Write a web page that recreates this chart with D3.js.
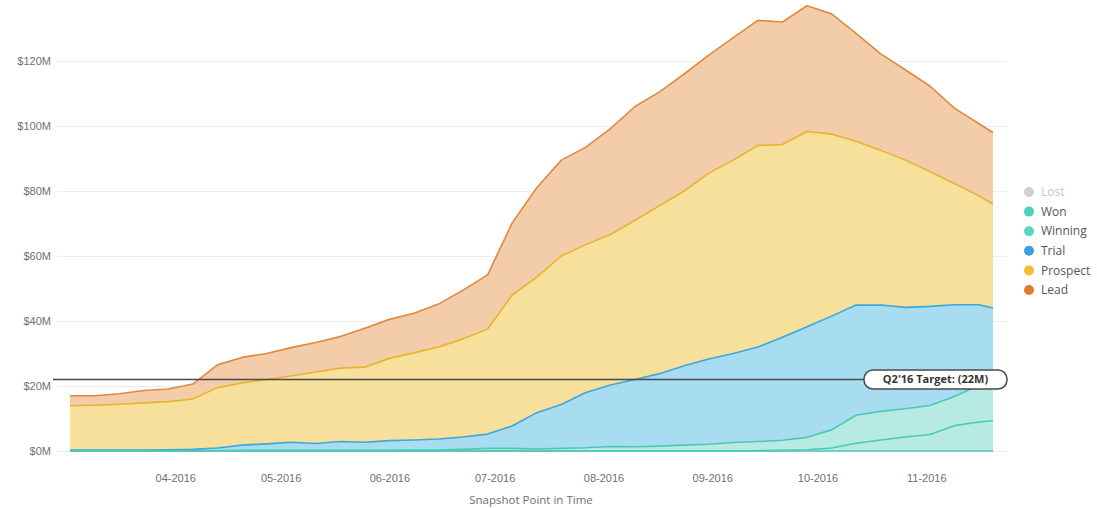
<!DOCTYPE html>
<html>
<head>
<meta charset="utf-8">
<script src="https://cdn.jsdelivr.net/npm/d3@7"></script>
<style>
  body { margin: 0; background: #fff; }
  svg { font-family: "Open Sans", sans-serif; }
</style>
</head>
<body>
<svg></svg>
<script>
const width = 1097;
const height = 508;

// weekly snapshots
const dates = ['2016-03-02','2016-03-09','2016-03-16','2016-03-23','2016-03-30',
  '2016-04-06','2016-04-13','2016-04-20','2016-04-27',
  '2016-05-04','2016-05-11','2016-05-18','2016-05-25',
  '2016-06-01','2016-06-08','2016-06-15','2016-06-22','2016-06-29',
  '2016-07-06','2016-07-13','2016-07-20','2016-07-27',
  '2016-08-03','2016-08-10','2016-08-17','2016-08-24','2016-08-31',
  '2016-09-07','2016-09-14','2016-09-21','2016-09-28',
  '2016-10-05','2016-10-12','2016-10-19','2016-10-26',
  '2016-11-02','2016-11-09','2016-11-16','2016-11-20'];

// values in $M
const won = [0,0,0,0,0, 0,0,0,0, 0,0,0,0, 0,0,0,0,0, 0,0,0,0, 0,0,0,0,0,
  0,0.1,0.2,0.4, 0.9,2.4,3.4,4.3, 5.1,7.8,8.9,9.3];
const winning = [0.1,0.1,0.1,0.1,0.1, 0.1,0.1,0.2,0.2, 0.2,0.2,0.2,0.2, 0.2,0.3,0.3,0.5,0.8,
  0.8,0.6,0.8,1.0, 1.4,1.3,1.5,1.8,2.1, 2.6,2.8,3.1,3.8, 5.6,8.6,8.8,8.7, 8.9,9.0,11.3,12.0];
const trial = [0.2,0.2,0.2,0.2,0.3, 0.4,0.8,1.6,2.0, 2.5,2.1,2.7,2.5, 3.0,3.1,3.4,3.8,4.4,
  6.9,11.2,13.5,17.0, 18.9,20.7,22.3,24.4,26.2, 27.4,29.1,31.7,34.0, 35.0,33.9,32.7,31.2, 30.5,28.2,24.8,22.7];
const prospect = [13.6,13.8,14.1,14.5,14.8, 15.5,18.6,19.1,19.8, 20.4,22.0,22.6,23.1, 25.3,26.8,28.3,30.2,32.3,
  40.3,41.7,45.7,45.5, 46.3,49.0,51.7,53.8,57.2, 59.5,62.0,59.3,60.1, 56.0,50.4,47.6,45.3, 41.5,37.3,33.5,32.0];
const lead = [3.1,2.9,3.2,3.8,3.9, 4.6,7.0,7.9,8.0, 8.7,9.1,9.7,12.0, 12.0,12.2,13.2,15.0,16.7,
  22.2,27.5,29.5,30.0, 32.6,35.0,35.0,36.0,36.3, 37.7,38.5,37.7,38.7, 37.0,33.2,29.7,27.8, 26.3,23.2,22.2,22.0];

const yTicks = [0, 20, 40, 60, 80, 100, 120];
const target = 22;
const targetLabel = "Q2'16 Target: (22M)";

const seriesNames = ['Won', 'Winning', 'Trial', 'Prospect', 'Lead'];
const legendNames = ['Lost', 'Won', 'Winning', 'Trial', 'Prospect', 'Lead'];

const fills = { Won: '#b6eae2', Winning: '#b6eae2', Trial: '#a8dcf1', Prospect: '#f6e09c', Lead: '#f3cca9' };
const strokes = { Won: '#4ec8b4', Winning: '#4ec8b4', Trial: '#3ea7da', Prospect: '#e6b52e', Lead: '#df8a3e' };
const dots = { Lost: '#cfcfcf', Won: '#4fd0bd', Winning: '#5cd3c3', Trial: '#3a9fe0', Prospect: '#efc132', Lead: '#e07c2f' };

const parse = d3.timeParse('%Y-%m-%d');
const rows = dates.map((d, i) => ({
  date: parse(d),
  Won: won[i], Winning: winning[i], Trial: trial[i], Prospect: prospect[i], Lead: lead[i]
}));

const svg = d3.select('svg').attr('width', width).attr('height', height);

const x = d3.scaleTime()
  .domain([rows[0].date, rows[rows.length - 1].date])
  .range([70, 993]);
const y = d3.scaleLinear().domain([0, 120]).range([451, 61]);

// grid + y labels
const yAxis = svg.append('g')
  .attr('transform', 'translate(57,0)')
  .call(d3.axisLeft(y).tickValues(yTicks).tickSize(-950).tickPadding(6)
    .tickFormat(d => '$' + d + 'M'));
yAxis.select('.domain').remove();
yAxis.selectAll('line').attr('stroke', '#ececec');
yAxis.selectAll('text').attr('fill', '#6f6f6f').attr('font-size', 11);

const stacked = d3.stack().keys(seriesNames)(rows);

const area = d3.area()
  .x(d => x(d.data.date))
  .y0(d => y(d[0]))
  .y1(d => y(d[1]));
const line = d3.line()
  .x(d => x(d.data.date))
  .y(d => y(d[1]));

svg.append('g').selectAll('path')
  .data(stacked)
  .enter()
  .append('path')
  .attr('d', area)
  .attr('fill', d => fills[d.key]);

svg.append('g').selectAll('path')
  .data(stacked)
  .enter()
  .append('path')
  .attr('d', line)
  .attr('fill', 'none')
  .attr('stroke', d => strokes[d.key])
  .attr('stroke-width', 1.6)
  .attr('stroke-linejoin', 'round');

// baseline teal
svg.append('line')
  .attr('x1', 70).attr('x2', 993)
  .attr('y1', y(0)).attr('y2', y(0))
  .attr('stroke', '#4ec8b4').attr('stroke-width', 1.5);

// target line + label
const ty = y(target);
svg.append('line')
  .attr('x1', 53).attr('x2', 864)
  .attr('y1', ty).attr('y2', ty)
  .attr('stroke', '#4a4a4a').attr('stroke-width', 1.5);
svg.append('rect')
  .attr('x', 864).attr('y', ty - 9.5)
  .attr('width', 143).attr('height', 19)
  .attr('rx', 9).attr('ry', 9)
  .attr('fill', '#fff')
  .attr('stroke', '#4a4a4a').attr('stroke-width', 1.5);
svg.append('text')
  .attr('x', 935.5).attr('y', ty)
  .attr('dy', '0.35em')
  .attr('text-anchor', 'middle')
  .attr('font-size', 11)
  .attr('font-weight', 'bold')
  .attr('fill', '#333')
  .text(targetLabel);

// x axis
const xAxis = svg.append('g')
  .attr('transform', 'translate(0,460)')
  .call(d3.axisBottom(x).ticks(d3.timeMonth.every(1)).tickSize(0).tickPadding(14)
    .tickFormat(d3.timeFormat('%m-%Y')));
xAxis.select('.domain').remove();
xAxis.selectAll('text').attr('fill', '#6f6f6f').attr('font-size', 11);

svg.append('text')
  .attr('x', 531).attr('y', 504)
  .attr('text-anchor', 'middle')
  .attr('font-size', 11.5)
  .attr('fill', '#6f6f6f')
  .text('Snapshot Point in Time');

// legend
const legend = svg.append('g').selectAll('g')
  .data(legendNames)
  .enter()
  .append('g')
  .attr('transform', (d, i) => `translate(1029, ${192 + i * 19.6})`);
legend.append('circle')
  .attr('r', 5)
  .attr('fill', d => dots[d]);
legend.append('text')
  .attr('x', 12)
  .attr('dy', '0.35em')
  .attr('font-size', 12)
  .attr('fill', d => d === 'Lost' ? '#c8c8c8' : '#555')
  .text(d => d);
</script>
</body>
</html>
